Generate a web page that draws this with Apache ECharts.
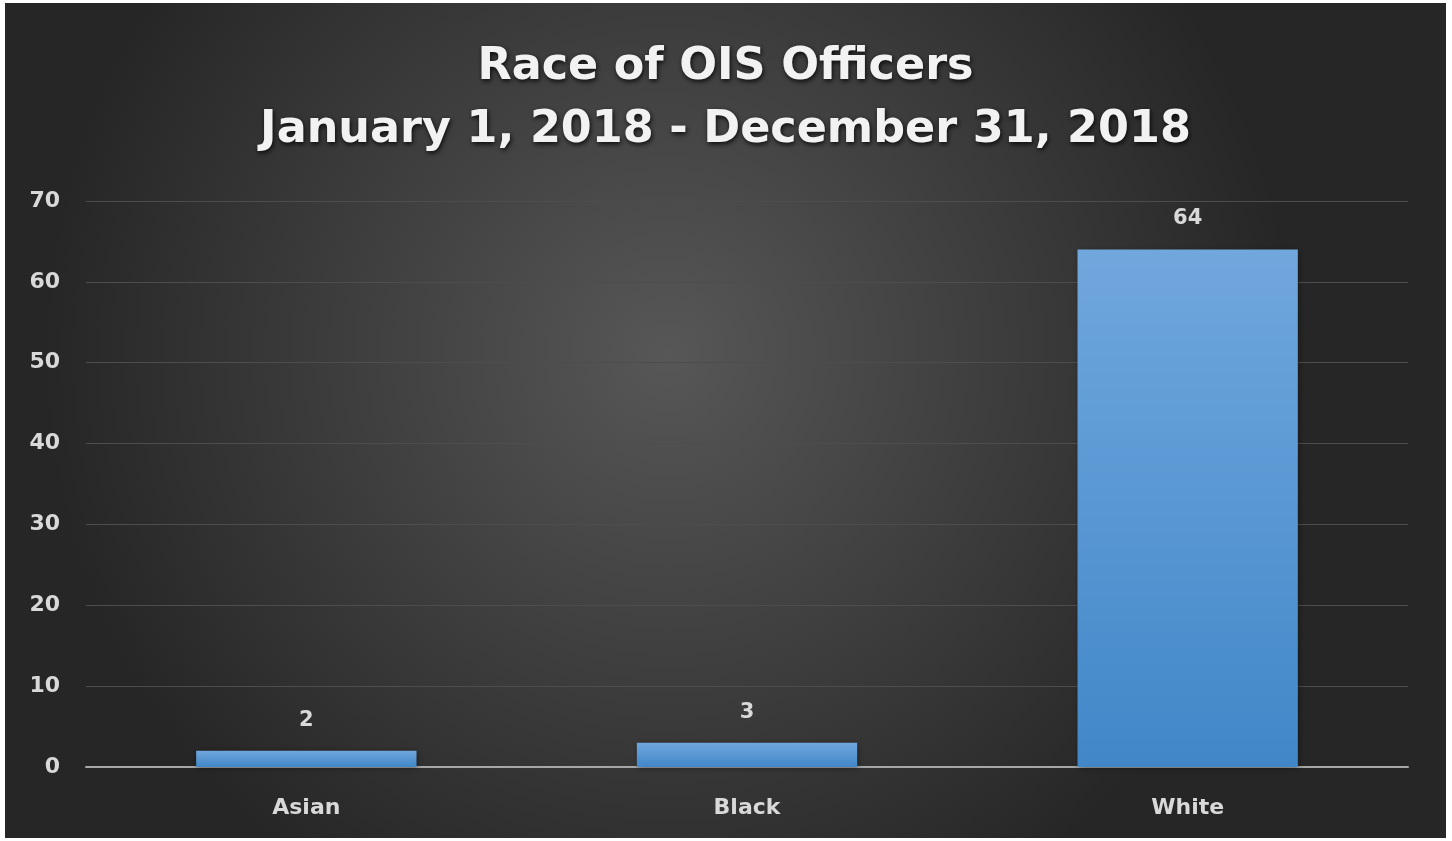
<!DOCTYPE html>
<html>
<head>
<meta charset="utf-8">
<script src="https://cdn.jsdelivr.net/npm/echarts@6/dist/echarts.min.js"></script>
<style>
html,body{margin:0;padding:0;background:#ffffff;width:1452px;height:841px;overflow:hidden;}
#c{position:absolute;left:5px;top:3px;width:1441px;height:835px;}
</style>
</head>
<body>
<div id="c"></div>
<script>
const titleLine1 = 'Race of OIS Officers';
const titleLine2 = 'January 1, 2018 - December 31, 2018';
const categories = ['Asian', 'Black', 'White'];
const values = [2, 3, 64];
const yTicks = [0, 10, 20, 30, 40, 50, 60, 70];

const chart = echarts.init(document.getElementById('c'));
const labelColor = '#d9d9d9';
const font = '"DejaVu Sans", sans-serif';
const titleStyle = {
  color: '#f2f2f2', fontFamily: font, fontWeight: 'bold', fontSize: 44.5,
  textShadowColor: 'rgba(0,0,0,0.85)', textShadowBlur: 5, textShadowOffsetX: 1, textShadowOffsetY: 2
};
chart.setOption({
  backgroundColor: {
    type: 'radial', x: 0.46, y: 0.42, r: 0.75,
    colorStops: [{offset: 0, color: '#575757'}, {offset: 1, color: '#262626'}]
  },
  title: [
    {text: titleLine1, left: 'center', top: 37, textStyle: titleStyle},
    {text: titleLine2, left: 'center', top: 100, textStyle: titleStyle}
  ],
  grid: {left: 81, right: 38, top: 198, bottom: 71, containLabel: false},
  xAxis: {
    type: 'category', data: categories,
    axisLine: {lineStyle: {color: '#a6a6a6', width: 2}},
    axisTick: {show: false},
    axisLabel: {color: labelColor, fontFamily: font, fontWeight: 'bold', fontSize: 22, margin: 30}
  },
  yAxis: {
    type: 'value', min: yTicks[0], max: yTicks[yTicks.length - 1], interval: 10,
    axisLine: {show: false}, axisTick: {show: false},
    splitLine: {lineStyle: {color: '#4d4d4d', width: 1}},
    axisLabel: {color: labelColor, fontFamily: font, fontWeight: 'bold', fontSize: 22, margin: 26}
  },
  series: [{
    type: 'bar', data: values, barWidth: '50%',
    itemStyle: {
      color: {type: 'linear', x: 0, y: 0, x2: 0, y2: 1,
        colorStops: [{offset: 0, color: '#70a7dd'}, {offset: 1, color: '#4187c8'}]},
      shadowColor: 'rgba(0,0,0,0.4)', shadowBlur: 6, shadowOffsetX: 1, shadowOffsetY: 1
    },
    label: {show: true, position: 'top', distance: 20, color: labelColor, fontFamily: font, fontWeight: 'bold', fontSize: 21}
  }]
});
</script>
</body>
</html>
